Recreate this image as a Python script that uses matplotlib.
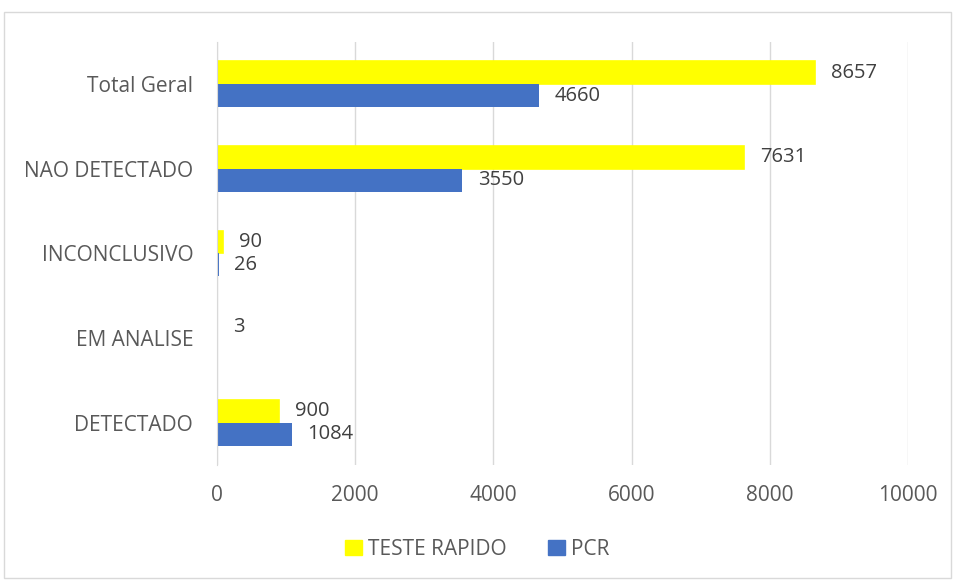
import matplotlib
matplotlib.use("Agg")
import matplotlib.pyplot as plt
import numpy as np
from matplotlib.patches import Rectangle

categories = ["DETECTADO", "EM ANALISE", "INCONCLUSIVO", "NAO DETECTADO", "Total Geral"]
teste_rapido = [900, 3, 90, 7631, 8657]
pcr = [1084, None, 26, 3550, 4660]
xticks = [0, 2000, 4000, 6000, 8000, 10000]

YELLOW = "#FFFF00"
BLUE = "#4472C4"
TEXT = "#595959"
FS = 15

plt.rcParams["font.family"] = ["Open Sans", "DejaVu Sans"]

fig = plt.figure(figsize=(9.55, 5.8), dpi=100)
ax = fig.add_axes([0.227, 0.198, 0.724, 0.730])

y = np.arange(len(categories))
h = 0.27
for i, (t, p) in enumerate(zip(teste_rapido, pcr)):
    ax.barh(y[i] + h / 2, t, height=h, color=YELLOW, edgecolor=YELLOW, lw=1.2, zorder=3)
    ax.text(t + 230, y[i] + h / 2, str(t), va="center", ha="left", fontsize=14.5, color="#404040")
    if p is not None:
        ax.barh(y[i] - h / 2, p, height=h, color=BLUE, zorder=3)
        ax.text(p + 230, y[i] - h / 2, str(p), va="center", ha="left", fontsize=14.5, color="#404040")

ax.set_xlim(0, 10000)
ax.set_ylim(-0.5, 4.5)
ax.set_xticks(xticks)
ax.set_xticklabels([str(v) for v in xticks], fontsize=FS, color=TEXT)
ax.set_yticks(y)
ax.set_yticklabels(categories, fontsize=FS, color=TEXT)
ax.tick_params(axis="y", length=0, pad=17)
ax.tick_params(axis="x", length=0, pad=14)
ax.grid(axis="x", color="#D9D9D9", lw=1, zorder=0)
for s in ["top", "right", "bottom"]:
    ax.spines[s].set_visible(False)
ax.spines["left"].set_color("#D9D9D9")
ax.spines["left"].set_zorder(4)

handles = [Rectangle((0, 0), 1, 1, color=YELLOW), Rectangle((0, 0), 1, 1, color=BLUE)]
fig.legend(handles, ["TESTE RAPIDO", "PCR"], loc="center", bbox_to_anchor=(0.5, 0.053),
           ncol=2, frameon=False, fontsize=FS, handlelength=0.8, handleheight=0.8,
           columnspacing=2.0, handletextpad=0.3, labelcolor=TEXT)

fig.patches.append(Rectangle((0.004, 0.004), 0.992, 0.975, transform=fig.transFigure,
                             fill=False, edgecolor="#D9D9D9", lw=1))

fig.savefig("out.png", dpi=100)
